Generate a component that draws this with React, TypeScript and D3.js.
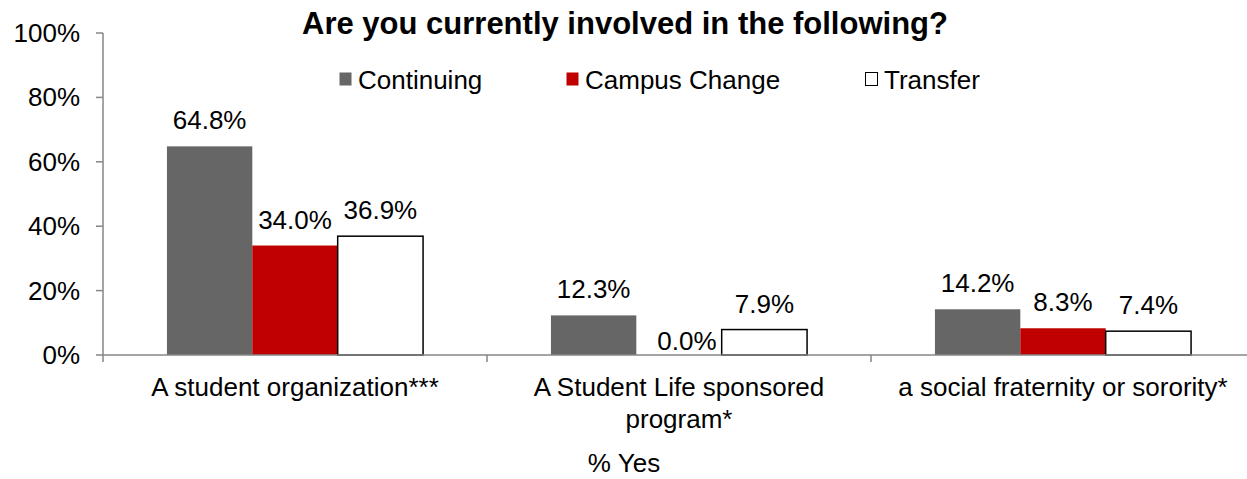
import React from "react";
import * as d3 from "d3";

const categories = [
  ["A student organization***"],
  ["A Student Life sponsored", "program*"],
  ["a social fraternity or sorority*"],
];
const seriesNames = ["Continuing", "Campus Change", "Transfer"];
const continuing = [64.8, 12.3, 14.2];
const campusChange = [34.0, 0.0, 8.3];
const transfer = [36.9, 7.9, 7.4];
const yTicks = [0, 20, 40, 60, 80, 100];

const fills = ["#666666", "#C00000", "#FFFFFF"];
const strokes = ["none", "none", "#000000"];

export default function App() {
  const W = 1247, H = 479;
  const left = 103, right = 1255, top = 33, bottom = 355;
  const series = [continuing, campusChange, transfer];
  const x0 = d3.scaleBand().domain(categories.map((_, i) => String(i))).range([left, right]).paddingInner(0).paddingOuter(0);
  const groupW = x0.bandwidth() * 0.667;
  const x1 = d3.scaleBand().domain(seriesNames).range([0, groupW]).padding(0);
  const y = d3.scaleLinear().domain([0, 100]).range([bottom, top]);
  const font = "'Liberation Sans', Arial, sans-serif";
  const legendX = [339, 566, 865];
  const fs = 26;
  return (
    <svg width={W} height={H} style={{ position: "absolute", left: 0, top: 0, fontFamily: font }}>
      <rect width={W} height={H} fill="#fff" />
      <text x={625} y={34} textAnchor="middle" fontSize={31} fontWeight="bold">Are you currently involved in the following?</text>
      {seriesNames.map((s, i) => (
        <g key={s}>
          <rect x={legendX[i] + 0.5} y={72.5} width={12} height={13} fill={fills[i]} stroke={strokes[i] === "none" ? "none" : "#000"} strokeWidth={1} />
          <text x={legendX[i] + 19} y={89} fontSize={fs}>{s}</text>
        </g>
      ))}
      {/* y axis */}
      <line x1={left} x2={left} y1={top} y2={bottom} stroke="#868686" strokeWidth={1.5} />
      {yTicks.map((t) => (
        <g key={t}>
          <line x1={left - 7} x2={left} y1={y(t)} y2={y(t)} stroke="#868686" strokeWidth={1.5} />
          <text x={left - 23} y={y(t) + 9} textAnchor="end" fontSize={fs}>{t}%</text>
        </g>
      ))}
      {/* bars */}
      {categories.map((c, ci) => {
        const gx = x0(String(ci))! + (x0.bandwidth() - groupW) / 2;
        return (
          <g key={ci}>
            {series.map((vals, si) => {
              const bx = gx + x1(seriesNames[si])!;
              const by = y(vals[ci]);
              const zero = vals[ci] === 0;
              return (
                <g key={si}>
                  {!zero && (
                    <rect x={bx} y={by} width={x1.bandwidth()} height={bottom - by} fill={fills[si]} stroke={strokes[si]} strokeWidth={1.5} />
                  )}
                  <text
                    x={bx + x1.bandwidth() / 2 + (zero ? 8 : 0)}
                    y={zero ? by - 5 : by - 17}
                    textAnchor="middle"
                    fontSize={fs}
                  >
                    {vals[ci].toFixed(1)}%
                  </text>
                </g>
              );
            })}
          </g>
        );
      })}
      {/* x axis */}
      <line x1={left} x2={right} y1={bottom} y2={bottom} stroke="#868686" strokeWidth={1.5} />
      {[0, 1, 2, 3].map((i) => {
        const xx = left + i * x0.bandwidth();
        return <line key={i} x1={xx} x2={xx} y1={bottom} y2={bottom + 7} stroke="#868686" strokeWidth={1.5} />;
      })}
      {categories.map((c, ci) => (
        <text key={ci} x={x0(String(ci))! + x0.bandwidth() / 2} y={396} textAnchor="middle" fontSize={fs}>
          {c.map((line, li) => (
            <tspan key={li} x={x0(String(ci))! + x0.bandwidth() / 2} dy={li === 0 ? 0 : 32}>{line}</tspan>
          ))}
        </text>
      ))}
      <text x={624} y={472} textAnchor="middle" fontSize={fs}>% Yes</text>
    </svg>
  );
}
